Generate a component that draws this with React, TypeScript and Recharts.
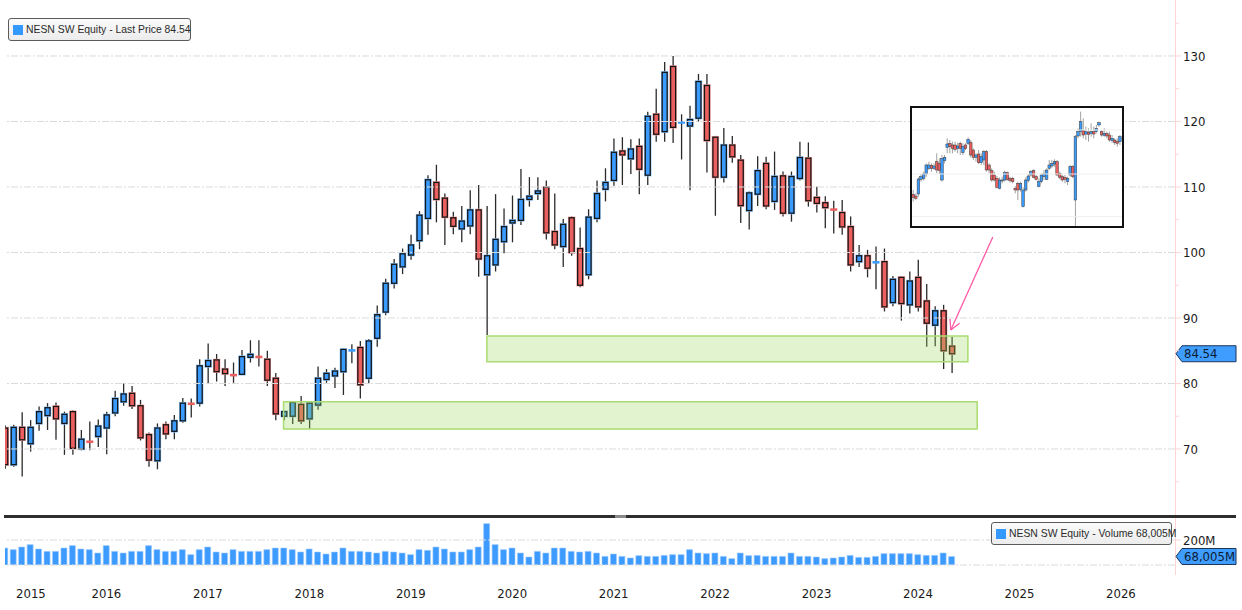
import React from 'react';
import { ComposedChart, Bar, XAxis, YAxis, ReferenceLine, ReferenceArea } from 'recharts';

// Monthly candles, index 0 = Jun 2015 ... 112 = Oct 2024
const OPEN = [
  73.2, 67.6, 73.3, 70.8, 73.9, 75.1, 76.5, 73.9, 75.7, 70.0,
  71.2, 71.9, 73.2, 75.5, 77.2, 78.5, 76.6, 72.2, 68.2, 73.7,
  72.7, 74.3, 77.0, 77.0, 82.6, 83.6, 82.2, 81.35, 81.4, 84.0,
  84.1, 83.7, 80.8, 75.0, 75.0, 76.8, 74.6, 76.7, 80.6, 81.15,
  81.8, 85.0, 85.5, 80.8, 86.9, 90.9, 95.3, 97.8, 99.6, 101.8,
  105.2, 110.7, 108.3, 105.3, 103.6, 104.05, 106.5, 96.6, 98.1, 101.65,
  104.5, 104.9, 108.1, 109.0, 109.95, 103.2, 100.9, 105.3, 100.6, 96.6,
  105.2, 109.65, 111.0, 115.5, 114.3, 116.2, 111.8, 121.1, 118.45, 128.4,
  119.8, 119.3, 120.5, 125.5, 117.6, 111.5, 116.4, 114.1, 106.4, 108.9,
  113.6, 107.8, 111.7, 106.0, 111.3, 114.4, 108.4, 107.6, 106.6, 106.1,
  103.95, 98.6, 99.5, 98.4, 98.6, 92.35, 96.2, 92.0, 96.2, 92.6,
  88.9, 91.1, 85.7,
];
const HIGH = [
  73.6, 73.7, 75.6, 74.4, 76.5, 77.0, 77.1, 75.7, 75.9, 72.9,
  74.2, 74.5, 75.7, 78.9, 80.0, 79.6, 77.5, 72.5, 73.9, 74.2,
  75.2, 77.8, 77.7, 83.7, 86.1, 84.5, 83.7, 83.2, 85.1, 86.6,
  86.6, 85.0, 81.6, 75.8, 77.3, 78.1, 77.0, 82.6, 82.2, 82.4,
  85.3, 86.0, 86.5, 86.8, 91.9, 96.0, 99.0, 100.6, 102.7, 106.3,
  111.8, 113.4, 109.0, 106.2, 107.1, 109.5, 110.3, 107.1, 108.9, 106.7,
  108.7, 112.75, 111.5, 111.5, 111.0, 109.0, 105.1, 105.5, 103.8, 106.6,
  111.0, 112.85, 117.4, 117.6, 117.3, 117.4, 121.5, 125.0, 129.1, 130.0,
  121.1, 122.4, 127.25, 127.25, 117.8, 119.0, 117.8, 114.9, 109.3, 114.7,
  114.6, 115.4, 112.35, 112.35, 116.9, 116.8, 110.05, 108.6, 107.9, 108.0,
  105.5, 101.15, 100.4, 100.9, 100.6, 96.4, 96.3, 97.1, 98.9, 95.2,
  91.8, 92.0, 87.15,
];
const LOW = [
  67.0, 67.3, 65.8, 69.6, 72.8, 72.9, 71.4, 69.1, 69.1, 69.8,
  69.8, 70.3, 69.2, 75.0, 76.6, 76.1, 71.3, 67.3, 66.9, 71.5,
  71.5, 74.0, 74.8, 76.5, 80.0, 80.3, 79.6, 80.1, 81.3, 83.2,
  82.6, 79.6, 74.4, 74.4, 73.8, 73.8, 73.05, 76.0, 80.1, 79.3,
  78.25, 83.1, 77.7, 80.0, 85.6, 90.4, 94.5, 96.7, 98.9, 100.5,
  102.7, 104.6, 101.15, 102.8, 101.55, 102.8, 96.3, 87.4, 97.1, 99.9,
  101.55, 104.2, 107.0, 108.0, 102.0, 100.5, 97.8, 99.5, 94.7, 95.9,
  104.6, 107.8, 110.2, 110.3, 112.0, 108.9, 110.3, 116.9, 116.9, 116.7,
  114.2, 109.5, 120.0, 112.2, 105.6, 110.7, 113.7, 104.5, 103.5, 107.1,
  106.6, 106.5, 105.5, 104.7, 111.0, 107.0, 106.1, 103.7, 102.9, 102.7,
  97.1, 97.8, 96.2, 94.4, 91.0, 91.8, 89.6, 90.7, 91.0, 85.6,
  85.7, 82.2, 81.6,
];
const CLOSE = [
  67.6, 73.3, 71.4, 73.3, 75.7, 76.3, 74.6, 75.3, 70.1, 71.5,
  71.0, 73.5, 75.2, 77.7, 78.4, 76.6, 71.7, 68.3, 73.2, 72.3,
  74.3, 77.0, 76.8, 82.7, 83.5, 81.8, 81.5, 81.2, 84.1, 84.45,
  84.0, 80.5, 75.35, 75.7, 77.1, 74.3, 77.0, 80.8, 81.55, 81.9,
  85.2, 85.1, 79.8, 86.5, 90.5, 95.3, 98.2, 99.8, 101.15, 105.7,
  111.1, 108.1, 105.4, 104.0, 104.8, 106.5, 99.0, 99.5, 102.0, 103.95,
  104.9, 108.1, 108.6, 109.4, 103.0, 101.15, 104.3, 100.0, 95.0, 105.4,
  109.0, 110.7, 115.3, 114.9, 115.8, 112.7, 120.8, 118.05, 127.5, 119.1,
  119.9, 120.3, 126.1, 117.1, 111.5, 116.4, 114.6, 107.15, 109.1, 112.5,
  107.1, 111.6, 106.0, 111.6, 114.5, 107.9, 107.5, 106.85, 106.5, 103.9,
  98.1, 99.5, 97.6, 98.6, 91.7, 95.9, 92.2, 95.65, 91.7, 89.2,
  91.1, 85.0, 84.54,
];
// Monthly volume, millions of shares
const VOLUME = [
  136, 123, 144, 163, 128, 109, 109, 136, 155, 128,
  123, 96, 155, 109, 96, 109, 109, 155, 123, 109,
  109, 123, 83, 123, 144, 104, 96, 123, 109, 109,
  109, 123, 136, 136, 123, 104, 128, 104, 88, 104,
  136, 109, 109, 104, 96, 109, 104, 96, 83, 123,
  117, 144, 128, 104, 104, 123, 144, 331, 163, 123,
  136, 96, 64, 109, 96, 136, 136, 109, 104, 109,
  96, 69, 88, 69, 56, 75, 69, 69, 77, 83,
  83, 123, 96, 91, 96, 69, 51, 96, 75, 77,
  69, 69, 69, 96, 69, 69, 64, 51, 56, 64,
  77, 61, 61, 69, 91, 91, 91, 91, 83, 77,
  77, 96, 68,
];

const YEAR_LABELS = ['2015', '2016', '2017', '2018', '2019', '2020', '2021', '2022', '2023', '2024', '2025', '2026'];
const YEAR_TICKS = [0, 12, 24, 36, 48, 60, 72, 84, 96, 108, 120, 132];
const PRICE_GRID = [70, 80, 90, 100, 110, 120, 130];
const PRICE_TICKS = [65, 70, 75, 80, 85, 90, 95, 100, 105, 110, 115, 120, 125, 130, 135];
const LAST_PRICE = 84.54;
const LAST_VOLUME = 68.005;
const VOL_GRID = [0, 200];

// highlighted zones (x in month index, y in price)
const ZONE_LOW = { x1: 32.95, x2: 115, y1: 73.05, y2: 77.2 };
const ZONE_HIGH = { x1: 57, x2: 113.9, y1: 83.33, y2: 87.25 };
const ARROW_FROM = { x: 116.85, y: 102.37 };
const ARROW_TO = { x: 111.88, y: 88.17 };

// inset (daily detail picture), arbitrary price units
const INSET_OPEN = [117,112,118,162,165,178,195,203,195,215,210,160,218,258,270,265,265,255,270,242,265,270,272,250,228,238,212,220,245,205,188,175,165,135,158,160,182,165,165,135,150,132,80,130,158,175,188,170,140,155,170,162,195,202,208,215,180,170,168,155,175,200,100,292,305,308,298,303,300,305,305,325,305,294,300,295,278,280,275,275];
const INSET_CLOSE = [108,105,163,170,178,205,205,195,202,190,188,225,228,268,260,255,252,262,255,260,255,282,235,228,235,212,230,245,190,190,160,160,138,160,160,182,162,158,155,130,130,150,130,160,172,185,168,162,155,175,178,190,205,210,215,175,168,160,162,165,200,170,290,305,335,295,305,297,305,298,315,332,295,300,292,280,285,272,270,290];
const INSET_HIGH = [130,120,168,178,185,210,215,210,210,240,225,235,235,285,280,275,275,272,275,270,270,288,280,255,240,250,240,250,250,210,195,185,172,168,170,188,185,170,170,142,155,155,138,168,178,190,192,175,165,180,190,195,220,220,222,220,185,175,175,170,205,205,295,315,365,345,320,315,330,320,325,335,310,315,305,305,295,285,285,295];
const INSET_LOW = [95,100,110,155,158,170,190,185,190,180,178,155,210,240,240,240,245,240,235,235,250,265,228,220,215,208,205,205,185,180,155,155,135,132,150,155,158,152,150,120,100,125,78,125,152,170,165,158,138,150,160,160,190,195,200,172,162,155,150,145,170,165,20,285,290,285,280,275,290,285,300,320,290,290,285,275,272,265,260,265];
const INSET_GRID = [50, 178, 310];

const priceData = OPEN.map((o, i) => ({ i, o, h: HIGH[i], l: LOW[i], c: CLOSE[i], range: [LOW[i], HIGH[i]] }));
const volData = VOLUME.map((v, i) => ({ i, v }));
const insetData = INSET_OPEN.map((o, k) => ({ k: k + 1, o, h: INSET_HIGH[k], l: INSET_LOW[k], c: INSET_CLOSE[k], range: [INSET_LOW[k], INSET_HIGH[k]] }));

const FONT = '"DejaVu Sans Condensed", "DejaVu Sans", "Liberation Sans", sans-serif';
const LEGEND_FONT = '"Liberation Sans", Arial, sans-serif';
const X_DOMAIN: [number, number] = [0, 138.4];
const PRICE_DOMAIN: [number, number] = [59.92, 137.02];
const VOL_DOMAIN: [number, number] = [0, 368];
const BLUE = '#3a9bff';
const RED = '#ec5f5f';
const BLUE_HALO = '#86c2ff';
const RED_HALO = '#f5a0a0';
const GRID = '#dadada';
const AXIS_PINK = '#ffd4d4';

function CandleShape(props: any) {
  const { x, y, width, height, payload } = props;
  if (x == null || payload == null) return null;
  const { o, h, l, c } = payload;
  const cx = x + width / 2;
  const top = Math.min(y, y + height);
  const hh = Math.abs(height);
  const k = h > l ? hh / (h - l) : 0;
  const py = (v: number) => top + (h - v) * k;
  const up = c >= o;
  const fill = up ? BLUE : RED;
  const halo = up ? BLUE_HALO : RED_HALO;
  const bt = py(Math.max(o, c));
  const bb = py(Math.min(o, c));
  const bw = 5;
  const wick = <line x1={cx} x2={cx} y1={top} y2={top + hh} stroke="#2a2a2a" strokeWidth={1.3} />;
  if (bb - bt < 2) {
    const m = (bt + bb) / 2;
    return (
      <g>
        {wick}
        <rect x={cx - 3.5} y={m - 1.3} width={7} height={2.6} fill={fill} />
      </g>
    );
  }
  return (
    <g>
      {wick}
      <rect x={cx - bw / 2 - 1.2} y={bt - 1.2} width={bw + 2.4} height={bb - bt + 2.4} fill={halo} />
      <rect x={cx - bw / 2} y={bt} width={bw} height={bb - bt} fill={fill} stroke="#151515" strokeWidth={1.3} />
    </g>
  );
}

function InsetCandle(props: any) {
  const { x, y, width, height, payload } = props;
  if (x == null || payload == null) return null;
  const { o, h, l, c } = payload;
  const cx = x + width / 2;
  const top = Math.min(y, y + height);
  const hh = Math.abs(height);
  const k = h > l ? hh / (h - l) : 0;
  const py = (v: number) => top + (h - v) * k;
  const up = c >= o;
  const bt = py(Math.max(o, c));
  const bb = py(Math.min(o, c));
  return (
    <g>
      <line x1={cx} x2={cx} y1={top} y2={top + hh} stroke="#a0a0a0" strokeWidth={1} />
      <rect x={cx - 1.3} y={bt} width={2.6} height={Math.max(bb - bt, 1)} fill={up ? BLUE : RED} stroke="#3a3a3a" strokeWidth={0.5} />
    </g>
  );
}

function PriceTick(props: any) {
  const { x, y, payload } = props;
  const v = payload.value;
  const major = v % 10 === 0;
  return (
    <g>
      <line x1={x} x2={x + (major ? 6 : 4)} y1={y} y2={y} stroke={AXIS_PINK} strokeWidth={1} />
      {major && (
        <text x={x + 8} y={y} dy="0.35em" fontSize={13} fill="#1a1a1a" fontFamily={FONT}>
          {v}
        </text>
      )}
    </g>
  );
}

function VolTick(props: any) {
  const { x, y, payload } = props;
  return (
    <g>
      <line x1={x} x2={x + 6} y1={y} y2={y} stroke={AXIS_PINK} strokeWidth={1} />
      <text x={x + 8} y={y} dy="0.35em" fontSize={13} fill="#1a1a1a" fontFamily={FONT}>
        {payload.value}M
      </text>
    </g>
  );
}

function YearTick(props: any) {
  const { x, y, payload, index } = props;
  const label = YEAR_LABELS[YEAR_TICKS.indexOf(payload.value)];
  const first = index === 0;
  return (
    <text
      x={first ? x + 11 : x}
      y={y + 28}
      dy="0.35em"
      textAnchor={first ? 'start' : 'middle'}
      fontSize={13}
      fill="#1a1a1a"
      fontFamily={FONT}
    >
      {label}
    </text>
  );
}

const tagLabel = (text: string) => (props: any) => {
  const vb = props.viewBox || {};
  const r = (vb.x || 0) + (vb.width || 0);
  const yc = vb.y || 0;
  const pts = `${r + 1},${yc} ${r + 7},${yc - 8} ${r + 61},${yc - 8} ${r + 61},${yc + 8} ${r + 7},${yc + 8}`;
  return (
    <g>
      <polygon points={pts} fill="#3f9dff" stroke="#1d3557" strokeWidth={1} />
      <text x={r + 9} y={yc} dy="0.36em" fontSize={13} fill="#0d1b33" fontFamily={FONT}>
        {text}
      </text>
    </g>
  );
};

function ArrowShape(props: any) {
  const { x1, y1, x2, y2 } = props;
  if (x1 == null) return null;
  const ang = Math.atan2(y1 - y2, x1 - x2);
  const len = 11;
  const a1 = ang + 0.5;
  const a2 = ang - 0.5;
  const color = '#ff5aa8';
  return (
    <g>
      <line x1={x1} y1={y1} x2={x2} y2={y2} stroke={color} strokeWidth={1.3} />
      <line x1={x2} y1={y2} x2={x2 + len * Math.cos(a1)} y2={y2 + len * Math.sin(a1)} stroke={color} strokeWidth={1.3} />
      <line x1={x2} y1={y2} x2={x2 + len * Math.cos(a2)} y2={y2 + len * Math.sin(a2)} stroke={color} strokeWidth={1.3} />
    </g>
  );
}

function LegendBox({ left, top, width, text }: { left: number; top: number; width: number; text: string }) {
  return (
    <div
      style={{
        position: 'absolute',
        left,
        top,
        width,
        height: 21,
        border: '1px solid #5a5a5a',
        borderRadius: 3,
        background: 'linear-gradient(#fbfbfb, #ececec)',
        boxSizing: 'content-box',
        display: 'flex',
        alignItems: 'center',
        fontFamily: LEGEND_FONT,
        fontSize: 10.4,
        color: '#2a2a2a',
        whiteSpace: 'nowrap',
      }}
    >
      <div style={{ flex: '0 0 10px', width: 10, height: 10, background: '#3399ff', marginLeft: 4, marginRight: 3 }} />
      <span>{text}</span>
    </div>
  );
}

function Inset() {
  return (
    <div
      style={{
        position: 'absolute',
        left: 910,
        top: 106,
        width: 210,
        height: 118,
        border: '2px solid #111',
        background: '#fff',
      }}
    >
      <ComposedChart width={210} height={118} data={insetData} margin={{ top: 0, right: 0, bottom: 0, left: 0 }}>
        <XAxis type="number" dataKey="k" domain={[0.5, 80.75]} hide allowDataOverflow />
        <YAxis type="number" domain={[22, 376]} hide allowDataOverflow />
        {INSET_GRID.map((g) => (
          <ReferenceLine key={g} y={g} stroke="#efefef" strokeWidth={1} />
        ))}
        <Bar dataKey="range" barSize={3} shape={InsetCandle} isAnimationActive={false} />
      </ComposedChart>
    </div>
  );
}

export default function App() {
  return (
    <div style={{ position: 'relative', width: 1242, height: 610, background: '#fff', overflow: 'hidden' }}>
      <style>{`body{margin:0;background:#fff;}`}</style>
      <div style={{ position: 'absolute', left: 1175, top: 0, width: 1, height: 575, background: AXIS_PINK }} />
      <div style={{ position: 'absolute', left: 0, top: 0 }}>
        <ComposedChart width={1242} height={515} data={priceData} margin={{ top: 10, right: 0, bottom: 0, left: 5 }}>
          <XAxis type="number" dataKey="i" domain={X_DOMAIN} hide allowDataOverflow />
          <YAxis
            orientation="right"
            type="number"
            width={67}
            domain={PRICE_DOMAIN}
            allowDataOverflow
            ticks={PRICE_TICKS}
            interval={0}
            axisLine={false}
            tickLine={false}
            tickSize={0}
            tickMargin={0}
            tick={PriceTick}
          />
          {PRICE_GRID.map((g) => (
            <ReferenceLine key={g} y={g} stroke={GRID} strokeDasharray="7 2 2 2" strokeWidth={1} />
          ))}
          <Bar dataKey="range" barSize={7} shape={CandleShape} isAnimationActive={false} />
          <ReferenceArea
            {...ZONE_LOW}
            fill="#9fd660"
            fillOpacity={0.3}
            stroke="#a9dc70"
            strokeWidth={1.5}
            zIndex={650}
          />
          <ReferenceArea
            {...ZONE_HIGH}
            fill="#9fd660"
            fillOpacity={0.3}
            stroke="#a9dc70"
            strokeWidth={1.5}
            zIndex={650}
          />
          <ReferenceLine segment={[ARROW_FROM, ARROW_TO]} shape={ArrowShape} zIndex={700} />
          <ReferenceLine y={LAST_PRICE} stroke="none" label={tagLabel(LAST_PRICE.toFixed(2))} zIndex={800} />
        </ComposedChart>
      </div>
      <div style={{ position: 'absolute', left: 0, top: 516 }}>
        <ComposedChart width={1242} height={94} data={volData} margin={{ top: 3, right: 0, bottom: 0, left: 5 }}>
          <XAxis
            type="number"
            dataKey="i"
            domain={X_DOMAIN}
            allowDataOverflow
            ticks={YEAR_TICKS}
            interval={0}
            height={45}
            axisLine={false}
            tickLine={false}
            tickSize={0}
            tickMargin={0}
            tick={YearTick}
          />
          <YAxis
            orientation="right"
            type="number"
            width={67}
            domain={VOL_DOMAIN}
            allowDataOverflow
            ticks={[200]}
            axisLine={false}
            tickLine={false}
            tickSize={0}
            tickMargin={0}
            tick={VolTick}
          />
          {VOL_GRID.map((g) => (
            <ReferenceLine key={g} y={g} stroke={GRID} strokeDasharray="7 2 2 2" strokeWidth={1} />
          ))}
          <Bar dataKey="v" barSize={6} fill="#3d9bff" stroke="#9ccbff" strokeWidth={0.6} isAnimationActive={false} />
          <ReferenceLine y={LAST_VOLUME} stroke="none" label={tagLabel('68,005M')} zIndex={800} />
        </ComposedChart>
      </div>
      <div style={{ position: 'absolute', left: 4, top: 515, width: 1232, height: 3, background: '#2e2e2e' }} />
      <div style={{ position: 'absolute', left: 615, top: 515, width: 11, height: 3, background: '#8a8a8a' }} />
      <Inset />
      <LegendBox left={8} top={18} width={181} text="NESN SW Equity - Last Price 84.54" />
      <LegendBox left={991} top={522} width={179} text="NESN SW Equity - Volume 68,005M" />
    </div>
  );
}
